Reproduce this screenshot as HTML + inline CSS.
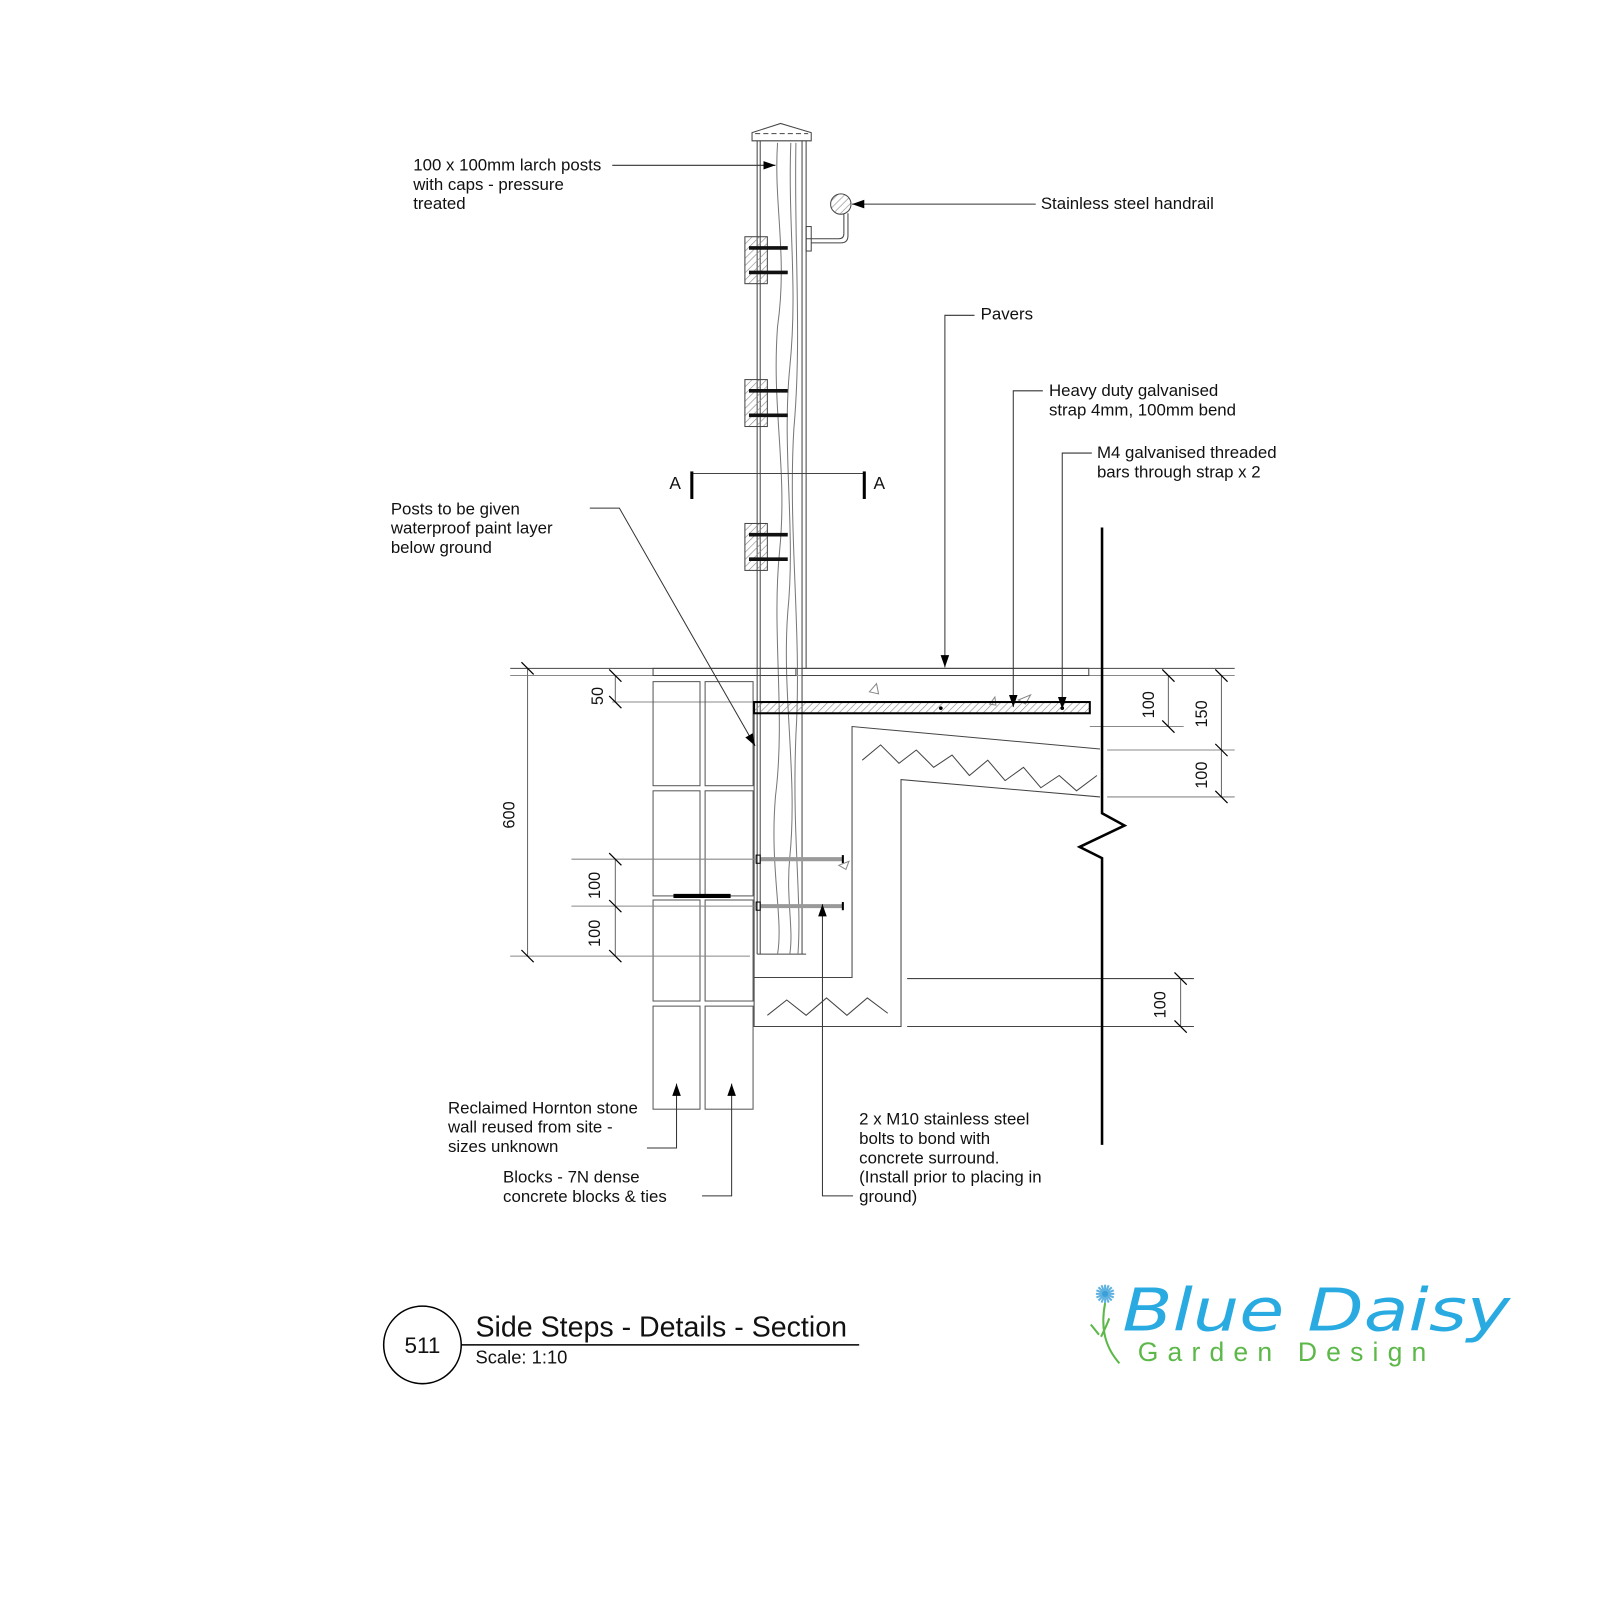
<!DOCTYPE html>
<html><head><meta charset="utf-8"><style>
html,body{margin:0;padding:0;background:#fff}
svg{display:block}
text{font-family:"Liberation Sans",sans-serif;fill:#111}
</style></head><body>
<svg width="1600" height="1600" viewBox="0 0 1568 1568" xmlns="http://www.w3.org/2000/svg">
<defs>
<pattern id="h" width="5" height="5" patternUnits="userSpaceOnUse" patternTransform="rotate(45)"><line x1="0" y1="0" x2="0" y2="5" stroke="#888" stroke-width="1.2"/></pattern>
<marker id="a" viewBox="0 0 10 10" refX="10" refY="5" markerWidth="12" markerHeight="12" markerUnits="userSpaceOnUse" orient="auto"><path d="M0,1.5 L10,5 L0,8.5z" fill="#000"/></marker>
</defs>
<g fill="none" stroke="#444" stroke-width="1">
<path d="M737,138 L737,130 L765,121 L795,130 L795,138 Z"/>
<line x1="740" y1="131" x2="792" y2="131" stroke-dasharray="5,3"/>
<line x1="742" y1="138" x2="742" y2="935"/><line x1="745" y1="138" x2="745" y2="935"/>
<line x1="786" y1="138" x2="786" y2="935"/><line x1="790" y1="138" x2="790" y2="655"/>
<line x1="742" y1="935" x2="790" y2="935"/>
<path d="M762,140 C758,200 772,250 762,320 C756,400 772,460 764,540 C756,620 770,700 760,780 C754,850 768,900 762,935" stroke="#777"/>
<path d="M775,140 C772,220 782,280 774,360 C766,440 780,520 772,600 C766,680 782,760 774,840 C770,880 778,910 774,935" stroke="#777"/>
<path d="M780,140 C778,240 786,330 778,420 C772,520 786,620 780,720 C776,820 786,880 782,935" stroke="#777"/>
<circle cx="824" cy="200" r="10" fill="url(#h)" stroke="#444"/>
<path d="M790,234 L822,234 Q827,234 827,229 L827,210"/>
<path d="M795,238 L824,238 Q831,238 831,231 L831,209"/>
<rect x="790" y="222" width="5" height="24"/>
<g id="blk">
<rect x="730" y="232" width="22" height="46" fill="url(#h)"/>
<line x1="734" y1="243" x2="772" y2="243" stroke="#111" stroke-width="3.5"/>
<line x1="734" y1="267" x2="772" y2="267" stroke="#111" stroke-width="3.5"/>
</g>
<use href="#blk" y="140"/><use href="#blk" y="281"/>
<line x1="678" y1="464" x2="847" y2="464"/>
<line x1="500" y1="655" x2="1210" y2="655"/>
<line x1="500" y1="662" x2="1210" y2="662" stroke="#888"/>
<rect x="640" y="655" width="140" height="7"/>
<rect x="786" y="655" width="281" height="7"/>
<line x1="600" y1="688" x2="739" y2="688" stroke="#888"/>
<line x1="1068" y1="712" x2="1160" y2="712" stroke="#888"/>
<line x1="1085" y1="735" x2="1210" y2="735" stroke="#888"/>
<line x1="1085" y1="781" x2="1210" y2="781" stroke="#888"/>
<g stroke="#555">
<rect x="640" y="668" width="46" height="102"/><rect x="691" y="668" width="47" height="102"/>
<rect x="640" y="775" width="46" height="103"/><rect x="691" y="775" width="47" height="103"/>
<rect x="640" y="882" width="46" height="99"/><rect x="691" y="882" width="47" height="99"/>
<rect x="640" y="986" width="46" height="101"/><rect x="691" y="986" width="47" height="101"/>
</g>
<line x1="660" y1="878" x2="716" y2="878" stroke="#000" stroke-width="4"/>
<path d="M739,699 L739,1006 L883,1006 L883,764 L1078,781"/>
<path d="M739,958 L835,958 L835,712 L1078,734"/>
<line x1="889" y1="959" x2="1170" y2="959"/>
<line x1="889" y1="1006" x2="1170" y2="1006"/>
<polyline points="845,745 863,730 881,748 898,735 915,752 933,740 950,760 968,745 985,765 1003,752 1020,772 1038,760 1055,775 1075,760"/>
<polyline points="752,995 771,980 790,995 810,978 830,995 850,978 870,993"/>
<line x1="745" y1="842" x2="826" y2="842" stroke="#999" stroke-width="4"/>
<line x1="745" y1="888" x2="826" y2="888" stroke="#999" stroke-width="4"/>
<rect x="741" y="838" width="4" height="8" stroke="#000"/><rect x="741" y="884" width="4" height="8" stroke="#000"/>
<line x1="826" y1="838" x2="826" y2="846" stroke="#000" stroke-width="2"/><line x1="826" y1="884" x2="826" y2="892" stroke="#000" stroke-width="2"/>
<line x1="560" y1="842" x2="741" y2="842" stroke="#888"/>
<line x1="560" y1="888" x2="741" y2="888" stroke="#888"/>
<line x1="500" y1="937" x2="735" y2="937" stroke="#888"/>
<path d="M852,678 l7,-8 l2,10z M998,686 l12,-5 l-5,9z M970,690 l5,-7 l1,8z M822,848 l10,-4 l-3,8z" stroke="#888"/>
<path d="M1080,517 L1080,797 L1102,809 L1058,830 L1080,841 L1080,1122" stroke="#000" stroke-width="2.5"/>
</g>
<rect x="739" y="688" width="329" height="11" fill="url(#h)" stroke="#000" stroke-width="2"/>
<circle cx="922" cy="694" r="1.8"/><circle cx="1041" cy="694" r="1.8"/>
<g stroke="#000" stroke-width="3"><line x1="678" y1="462" x2="678" y2="489"/><line x1="847" y1="462" x2="847" y2="489"/></g>
<text x="656" y="479" font-size="17">A</text><text x="856" y="479" font-size="17">A</text>
<g stroke="#666" stroke-width="1">
<line x1="517" y1="655" x2="517" y2="937"/>
<line x1="603" y1="662" x2="603" y2="688"/>
<line x1="603" y1="842" x2="603" y2="937"/>
<line x1="1145" y1="662" x2="1145" y2="712"/>
<line x1="1197" y1="662" x2="1197" y2="781"/>
<line x1="1157" y1="959" x2="1157" y2="1006"/>
</g>
<g stroke="#000" stroke-width="1.2">
<path d="M511,649l12,12 M511,931l12,12 M597,656l12,12 M597,682l12,12 M597,836l12,12 M597,882l12,12 M597,931l12,12 M1139,656l12,12 M1139,706l12,12 M1191,656l12,12 M1191,729l12,12 M1191,775l12,12 M1151,953l12,12 M1151,1000l12,12"/>
</g>
<g font-size="16">
<text transform="translate(504,812) rotate(-90)">600</text>
<text transform="translate(591,691) rotate(-90)">50</text>
<text transform="translate(588,881) rotate(-90)">100</text>
<text transform="translate(588,928) rotate(-90)">100</text>
<text transform="translate(1131,704) rotate(-90)">100</text>
<text transform="translate(1183,713) rotate(-90)">150</text>
<text transform="translate(1183,773) rotate(-90)">100</text>
<text transform="translate(1142,998) rotate(-90)">100</text>
</g>
<g stroke="#333" stroke-width="1" fill="none">
<line x1="600" y1="162" x2="760" y2="162" marker-end="url(#a)"/>
<line x1="1015" y1="200" x2="835" y2="200" marker-end="url(#a)"/>
<polyline points="955,309 926,309 926,654" marker-end="url(#a)"/>
<polyline points="1022,383 993,383 993,693" marker-end="url(#a)"/>
<polyline points="1070,444 1041,444 1041,695" marker-end="url(#a)"/>
<polyline points="578,498 607,498 740,731" marker-end="url(#a)"/>
<polyline points="634,1125 663,1125 663,1062" marker-end="url(#a)"/>
<polyline points="688,1172 717,1172 717,1062" marker-end="url(#a)"/>
<polyline points="836,1172 806,1172 806,886" marker-end="url(#a)"/>
</g>
<g font-size="16.5">
<text x="405" y="167">100 x 100mm larch posts</text>
<text x="405" y="186">with caps - pressure</text>
<text x="405" y="205">treated</text>
<text x="1020" y="205">Stainless steel handrail</text>
<text x="961" y="313">Pavers</text>
<text x="1028" y="388">Heavy duty galvanised</text>
<text x="1028" y="407">strap 4mm, 100mm bend</text>
<text x="1075" y="449">M4 galvanised threaded</text>
<text x="1075" y="468">bars through strap x 2</text>
<text x="383" y="504">Posts to be given</text>
<text x="383" y="523">waterproof paint layer</text>
<text x="383" y="542">below ground</text>
<text x="439" y="1091">Reclaimed Hornton stone</text>
<text x="439" y="1110">wall reused from site -</text>
<text x="439" y="1129">sizes unknown</text>
<text x="493" y="1159">Blocks - 7N dense</text>
<text x="493" y="1178">concrete blocks &amp; ties</text>
<text x="842" y="1102">2 x M10 stainless steel</text>
<text x="842" y="1121">bolts to bond with</text>
<text x="842" y="1140">concrete surround.</text>
<text x="842" y="1159">(Install prior to placing in</text>
<text x="842" y="1178">ground)</text>
</g>
<circle cx="414" cy="1318" r="38" fill="none" stroke="#000" stroke-width="1.5"/>
<text x="414" y="1326" font-size="22" text-anchor="middle">511</text>
<line x1="452" y1="1318" x2="842" y2="1318" stroke="#000" stroke-width="1.5"/>
<text x="466" y="1310" font-size="28">Side Steps - Details - Section</text>
<text x="466" y="1336" font-size="18">Scale: 1:10</text>
<g transform="translate(1083,1268)">
<g stroke="#5fb2e0" stroke-width="2">
<line x1="-9" y1="0" x2="9" y2="0"/><line x1="0" y1="-9" x2="0" y2="9"/>
<line x1="-6.5" y1="-6.5" x2="6.5" y2="6.5"/><line x1="-6.5" y1="6.5" x2="6.5" y2="-6.5"/>
<line x1="-8.5" y1="-3.5" x2="8.5" y2="3.5"/><line x1="-3.5" y1="-8.5" x2="3.5" y2="8.5"/>
<line x1="-8.5" y1="3.5" x2="8.5" y2="-3.5"/><line x1="-3.5" y1="8.5" x2="3.5" y2="-8.5"/>
</g>
<circle r="3" fill="#3b9fd8"/>
<path d="M0,9 C-4,30 -2,50 14,68 M-6,40 L-14,30 M-4,42 C0,34 2,30 4,24" stroke="#5cb849" stroke-width="2" fill="none"/>
</g>
<text x="1100" y="1304" font-size="58" font-style="italic" style="fill:#29abe2;font-family:'DejaVu Sans',sans-serif" textLength="380" lengthAdjust="spacingAndGlyphs">Blue Daisy</text>
<text x="1115" y="1334" font-size="26" style="fill:#5cb849" letter-spacing="9">Garden Design</text>
</svg>
</body></html>
